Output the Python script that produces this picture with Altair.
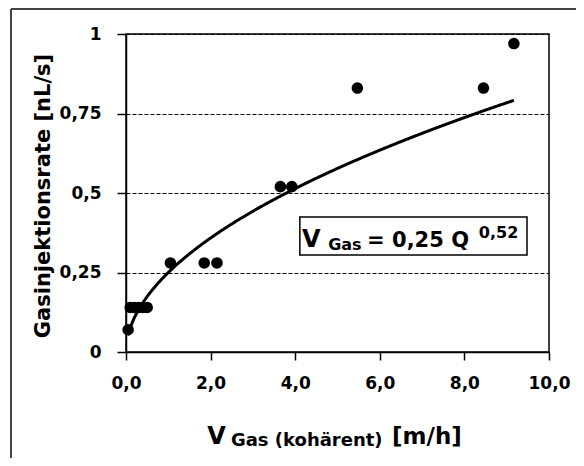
import altair as alt
import pandas as pd

# ---- data ----
gas_velocity = [0.05, 0.1, 0.2, 0.3, 0.4, 0.5, 1.05, 1.85, 2.15, 3.65, 3.92, 5.47, 8.45, 9.17]
injection_rate = [0.07, 0.14, 0.14, 0.14, 0.14, 0.14, 0.28, 0.28, 0.28, 0.52, 0.52, 0.83, 0.83, 0.97]
x_ticks = [0, 2, 4, 6, 8, 10]
y_ticks = [0, 0.25, 0.5, 0.75, 1]
fit_a = 0.25   # trend line printed on the chart: V_Gas = 0,25 Q^0,52
fit_b = 0.52
fit_start = 0.05
fit_end = 9.17

FONT = "DejaVu Sans"

points_df = pd.DataFrame({"v": gas_velocity, "rate": injection_rate})
one = pd.DataFrame({"k": [0]})

xscale = alt.Scale(domain=[0, 10], nice=False, zero=False)
yscale = alt.Scale(domain=[0, 1], nice=False)

xaxis = alt.Axis(values=x_ticks, title=None, grid=False,
                 labelExpr="replace(format(datum.value, '.1f'), '.', ',')",
                 labelFlush=False, labelOverlap=False,
                 tickSize=8, tickColor="black", tickWidth=1.5,
                 domainColor="black", domainWidth=1.5,
                 labelFont=FONT, labelFontWeight="bold", labelFontSize=17,
                 labelColor="black", labelPadding=15)
yaxis = alt.Axis(values=y_ticks, title=None, grid=True,
                 labelFlush=False, labelOverlap=False,
                 gridDash=[4, 2], gridColor="black", gridWidth=1.2, gridOpacity=1,
                 labelExpr="replace(format(datum.value, '~g'), '.', ',')",
                 tickSize=9, tickColor="black", tickWidth=1.5,
                 domainColor="black", domainWidth=1.5,
                 labelFont=FONT, labelFontWeight="bold", labelFontSize=17,
                 labelColor="black", labelPadding=16)

points = alt.Chart(points_df).mark_circle(size=135, color="black", opacity=1).encode(
    x=alt.X("v:Q", scale=xscale, axis=xaxis),
    y=alt.Y("rate:Q", scale=yscale, axis=yaxis),
)

curve = (
    alt.Chart(alt.sequence(fit_start, fit_end + 0.001, 0.02, as_="v"))
    .transform_calculate(rate=f"{fit_a} * pow(datum.v, {fit_b})")
    .mark_line(color="black", strokeWidth=3)
    .encode(x=alt.X("v:Q", scale=xscale), y=alt.Y("rate:Q", scale=yscale))
)

# equation box
box = alt.Chart(one).mark_rect(fill="white", stroke="black", strokeWidth=1.5).encode(
    x=alt.datum(4.11, scale=xscale), x2=alt.datum(9.48),
    y=alt.datum(0.305, scale=yscale), y2=alt.datum(0.4245),
)

def eq_text(txt, x, y, size):
    return alt.Chart(one).mark_text(
        text=txt, font=FONT, fontWeight="bold", fontSize=size, color="black",
        align="left", baseline="alphabetic"
    ).encode(x=alt.datum(x, scale=xscale), y=alt.datum(y, scale=yscale))

eq = (eq_text("V", 4.16, 0.33, 24)
      + eq_text("Gas", 4.78, 0.321, 16)
      + eq_text("= 0,25 Q", 5.70, 0.33, 21)
      + eq_text("0,52", 8.34, 0.3585, 16))

# x-axis title with subscript
def xt(txt, x, ypix, size):
    return alt.Chart(one).mark_text(
        text=txt, font=FONT, fontWeight="bold", fontSize=size, color="black",
        align="left", baseline="alphabetic"
    ).encode(x=alt.datum(x, scale=xscale), y=alt.value(ypix))

xtitle = (xt("V", 1.92, 410, 24)
          + xt("Gas (kohärent)", 2.48, 412, 18)
          + xt("[m/h]", 6.29, 410, 23))

ytitle = alt.Chart(one).mark_text(
    text="Gasinjektionsrate [nL/s]", font=FONT, fontWeight="bold", fontSize=21,
    color="black", angle=270, align="center", baseline="alphabetic"
).encode(x=alt.value(-76), y=alt.value(162))

# outer document frame
frame_left = alt.Chart(one).mark_rule(color="#444444", strokeWidth=2).encode(
    x=alt.value(-115), y=alt.value(-25), y2=alt.value(440))
frame_top = alt.Chart(one).mark_rule(color="#444444", strokeWidth=2).encode(
    x=alt.value(-115), x2=alt.value(460), y=alt.value(-25))

chart = alt.layer(
    frame_left, frame_top, curve, points, box, eq, xtitle, ytitle
).properties(
    width=423, height=318, autosize="none",
    padding={"left": 118, "top": 26, "right": 27, "bottom": 106},
    background="white",
).configure_view(stroke="black", strokeWidth=1.5)

chart.save("out.html", embed_options={"renderer": "svg", "actions": False})
